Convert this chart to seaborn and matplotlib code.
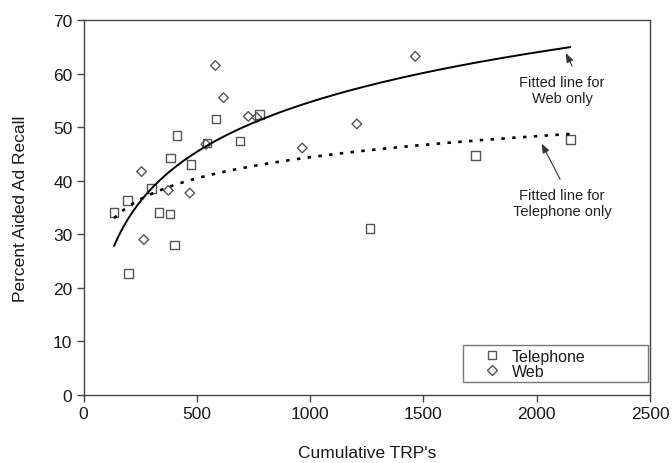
import numpy as np
import pandas as pd
import matplotlib
matplotlib.use("Agg")
import matplotlib.pyplot as plt
import seaborn as sns
from matplotlib.lines import Line2D

tel_trp = [135, 193, 199, 299, 334, 382, 385, 401, 412, 475, 544, 584, 690, 777, 1265, 1731, 2148]
tel_recall = [34.1, 36.3, 22.7, 38.5, 34.1, 33.8, 44.2, 28.0, 48.4, 43.0, 47.0, 51.5, 47.4, 52.4, 31.1, 44.7, 47.7]
web_trp = [256, 266, 374, 469, 540, 582, 618, 727, 765, 965, 1206, 1464]
web_recall = [41.7, 29.0, 38.2, 37.7, 46.8, 61.5, 55.5, 52.0, 51.8, 46.1, 50.6, 63.2]
x_ticks = [0, 500, 1000, 1500, 2000, 2500]
y_ticks = [0, 10, 20, 30, 40, 50, 60, 70]

sns.set_theme(style="white")
plt.rcParams['font.family'] = ['Liberation Sans', 'DejaVu Sans']

tel_df = pd.DataFrame({"trp": tel_trp, "recall": tel_recall})
web_df = pd.DataFrame({"trp": web_trp, "recall": web_recall})

fig = plt.figure(figsize=(6.72, 4.64), dpi=100)
ax = fig.add_axes([0.1243, 0.1466, 0.8430, 0.8082])

EDGE = "#555555"
sns.scatterplot(data=tel_df, x="trp", y="recall", marker="s", s=38,
                facecolor="none", edgecolor=EDGE, linewidth=1.0, ax=ax)
sns.scatterplot(data=web_df, x="trp", y="recall", marker="D", s=24,
                facecolor="none", edgecolor=EDGE, linewidth=1.0, ax=ax)

# logarithmic fits from data
all_x = tel_trp + web_trp
xs = np.linspace(min(all_x), max(all_x), 200)
bw, aw = np.polyfit(np.log(web_trp), web_recall, 1)
bt, at = np.polyfit(np.log(tel_trp), tel_recall, 1)
fit_df = pd.DataFrame({"x": xs, "web": aw + bw * np.log(xs), "tel": at + bt * np.log(xs)})
sns.lineplot(data=fit_df, x="x", y="web", color="black", linewidth=1.4, ax=ax)
sns.lineplot(data=fit_df, x="x", y="tel", color="black", linewidth=1.9,
             linestyle=(0, (1.3, 2.8)), ax=ax)

ax.set_xlim(0, 2500)
ax.set_ylim(0, 70)
ax.set_xticks(x_ticks)
ax.set_yticks(y_ticks)
ax.tick_params(axis="both", which="both", direction="out", length=5, width=1,
               color="#444444", labelsize=12.5, labelcolor="#1a1a1a", pad=3,
               bottom=True, left=True)
for sp in ax.spines.values():
    sp.set_color("#444444")
    sp.set_linewidth(1.0)
    sp.set_visible(True)

ax.set_xlabel("Cumulative TRP's", fontsize=12.5, color="#1a1a1a", labelpad=17)
ax.set_ylabel("Percent Aided Ad Recall", fontsize=12.5, color="#1a1a1a", labelpad=18)

# annotations
arrow = dict(arrowstyle="-|>,head_length=0.45,head_width=0.18",
             color="#333333", lw=0.8, shrinkA=0, shrinkB=0)
ax.text(2112, 57.0, "Fitted line for\nWeb only", ha="center", va="center",
        fontsize=10.5, color="#222222", linespacing=1.2)
ax.annotate("", xy=(2129, 63.8), xytext=(2156, 61.4), arrowprops=arrow)
ax.text(2112, 35.9, "Fitted line for\nTelephone only", ha="center", va="center",
        fontsize=10.5, color="#222222", linespacing=1.2)
ax.annotate("", xy=(2022, 46.9), xytext=(2103, 40.3), arrowprops=arrow)

# legend
handles = [Line2D([], [], marker="s", linestyle="none", markerfacecolor="none",
                  markeredgecolor=EDGE, markersize=6, markeredgewidth=1.0),
           Line2D([], [], marker="D", linestyle="none", markerfacecolor="none",
                  markeredgecolor=EDGE, markersize=4.8, markeredgewidth=1.0)]
leg = ax.legend(handles, ["Telephone", "Web"], loc="lower left",
                bbox_to_anchor=(0.670, 0.035, 0.3265, 0.083), mode="expand",
                fontsize=11.5, frameon=True, fancybox=False, borderpad=0.2,
                labelspacing=0.0, handletextpad=-0.35, borderaxespad=0.0,
                handlelength=3.2)
leg.get_frame().set_edgecolor(EDGE)
leg.get_frame().set_linewidth(1.0)
for t in leg.get_texts():
    t.set_color("#1a1a1a")

fig.savefig("out.png", dpi=100)
